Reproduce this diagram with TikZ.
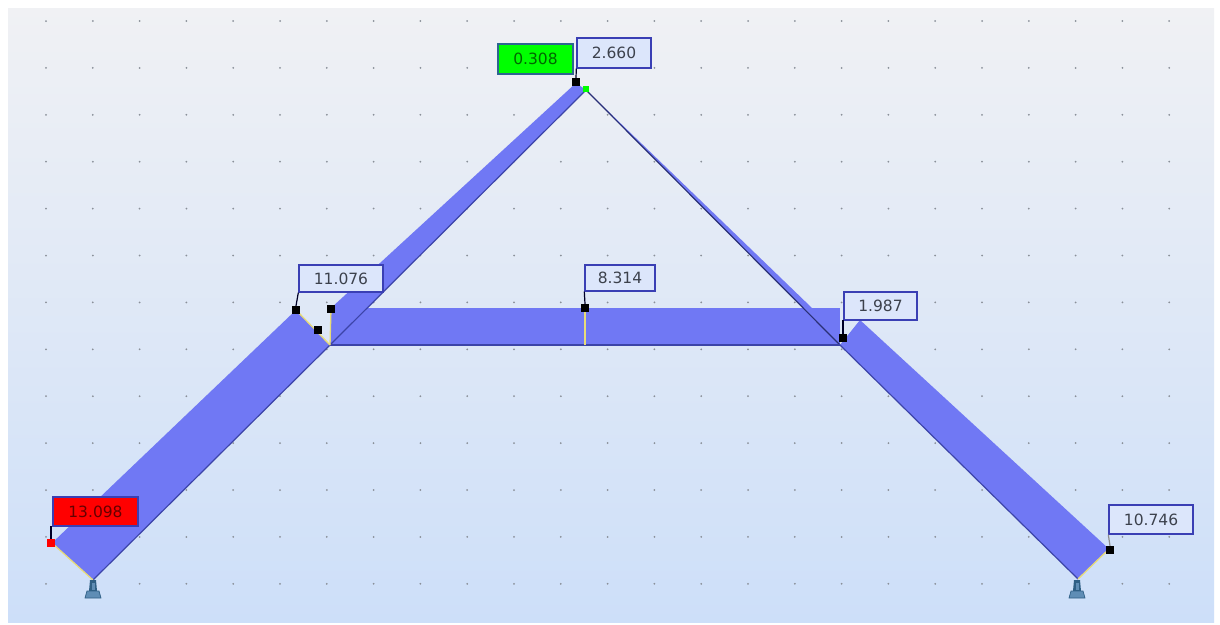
\documentclass[tikz,border=0pt]{standalone}
\usepackage{fontspec}
\setmainfont{DejaVu Sans}
\definecolor{band}{HTML}{7078F4}
\definecolor{bandedge}{HTML}{3C44A8}
\definecolor{boxfill}{HTML}{DCE6FB}
\definecolor{boxedge}{HTML}{3A3FB4}
\definecolor{valtext}{HTML}{3C414C}
\definecolor{bgtop}{HTML}{F0F1F4}
\definecolor{bgbot}{HTML}{CDDFF9}
\definecolor{griddot}{HTML}{8A9099}
\definecolor{yell}{HTML}{E8DC78}
\definecolor{supp}{HTML}{5F8DB5}
\definecolor{suppdark}{HTML}{2F5F85}
\tikzset{
  valbox/.style={draw=boxedge,line width=1.4pt,fill=boxfill,text=valtext,font=\fontsize{15.5}{16}\selectfont,inner sep=0pt,anchor=center},
  hotbox/.style={valbox,fill=red,text=red!40!black},
  coldbox/.style={valbox,fill=green,text=green!40!black,draw=boxedge!80!green},
  mark box/.style={fill=black,minimum size=8pt,inner sep=0pt},
  leader/.style={draw=black!85!blue,line width=1.2pt},
  member/.style={fill=band,draw=none},
  outline/.style={draw=bandedge,line width=1.2pt},
  yline/.style={draw=yell,line width=1.3pt}
}
\begin{document}
\begin{tikzpicture}[x=1pt,y=-1pt]
\useasboundingbox (0,0) rectangle (1220,624);
\fill[white] (0,0) rectangle (1220,624);
\shade[top color=bgtop,bottom color=bgbot] (8,8) rectangle (1214,622);
% grid
\foreach \i in {0,...,24}
  \foreach \j in {0,...,12}
    \fill[griddot] ({46+46.8*\i},{21+46.9*\j}) circle (1.0);
% members
\fill[member] (52,543) -- (296,310) -- (330,345) -- (93,580) -- cycle;
\fill[member] (331,308) -- (576,83) -- (586,90) -- (330,345) -- cycle;
\fill[member] (331,308) rectangle (840,345);
\fill[member] (586,90) -- (812,308) -- (840,345) -- cycle;
\fill[member] (840,345) -- (860,320) -- (1109,549) -- (1078,579) -- cycle;
% outlines
\draw[outline] (93,580) -- (330,345) -- (586,90);
\draw[outline,draw=bandedge!70!black] (586,90) -- (840,345);
\draw[outline] (840,345) -- (1078,579);
\draw[outline] (330,345) -- (840,345);
% yellow ordinates
\draw[yline] (52,543) -- (93,580);
\draw[yline] (296,310) -- (330,345);
\draw[yline] (331,309) -- (330,345);
\draw[yline] (585,308) -- (585,345);
\draw[yline] (1078,579) -- (1109,549);
% supports
\foreach \sx in {93,1077} {
  \fill[suppdark] (\sx-3,580) -- (\sx+3,580) -- (\sx+4,591) -- (\sx-4,591) -- cycle;
  \fill[supp] (\sx-1.5,583) rectangle (\sx+1.5,590);
  \fill[supp,draw=suppdark,line width=0.7pt] (\sx-6,591) -- (\sx+6,591) -- (\sx+8,598) -- (\sx-8,598) -- cycle;
}
% markers
\node[mark box,fill=red] (m1) at (51,543) {};
\node[mark box] (m2) at (296,310) {};
\node[mark box] (m3) at (318,330) {};
\node[mark box] (m4) at (331,309) {};
\node[mark box] (m5) at (585,308) {};
\node[mark box] (m6) at (843,338) {};
\node[mark box] (m7) at (576,82) {};
\node[mark box] (m8) at (1110,550) {};
\node[fill=green,minimum size=6pt,inner sep=0pt] (m9) at (586,89) {};
% labels
\node[hotbox,minimum width=85pt,minimum height=29pt] (l1) at (95.5,511.5) {13.098};
\node[valbox,minimum width=84pt,minimum height=27pt] (l2) at (341,278.5) {11.076};
\node[valbox,minimum width=70pt,minimum height=26pt] (l5) at (620,278) {8.314};
\node[valbox,minimum width=73pt,minimum height=28pt] (l6) at (880.5,306) {1.987};
\node[valbox,minimum width=74pt,minimum height=30pt] (l7) at (614,53) {2.660};
\node[coldbox,minimum width=75pt,minimum height=30pt] (l9) at (535.5,59) {0.308};
\node[valbox,minimum width=84pt,minimum height=29pt] (l8) at (1151,519.5) {10.746};
% leaders
\draw[leader] (m1.north) -- (m1.north |- l1.south) -- (l1.south west);
\draw[leader] (m2.north) -- (l2.south west);
\draw[leader] (m5.north) -- (l5.south west);
\draw[leader] (m6.north) -- (m6.north |- l6.south west) -- (l6.south west);
\draw[leader] (m7.north) -- (l7.south west);
\draw[leader,draw=black!45] (m8.north) -- (l8.south west);
\end{tikzpicture}
\end{document}
